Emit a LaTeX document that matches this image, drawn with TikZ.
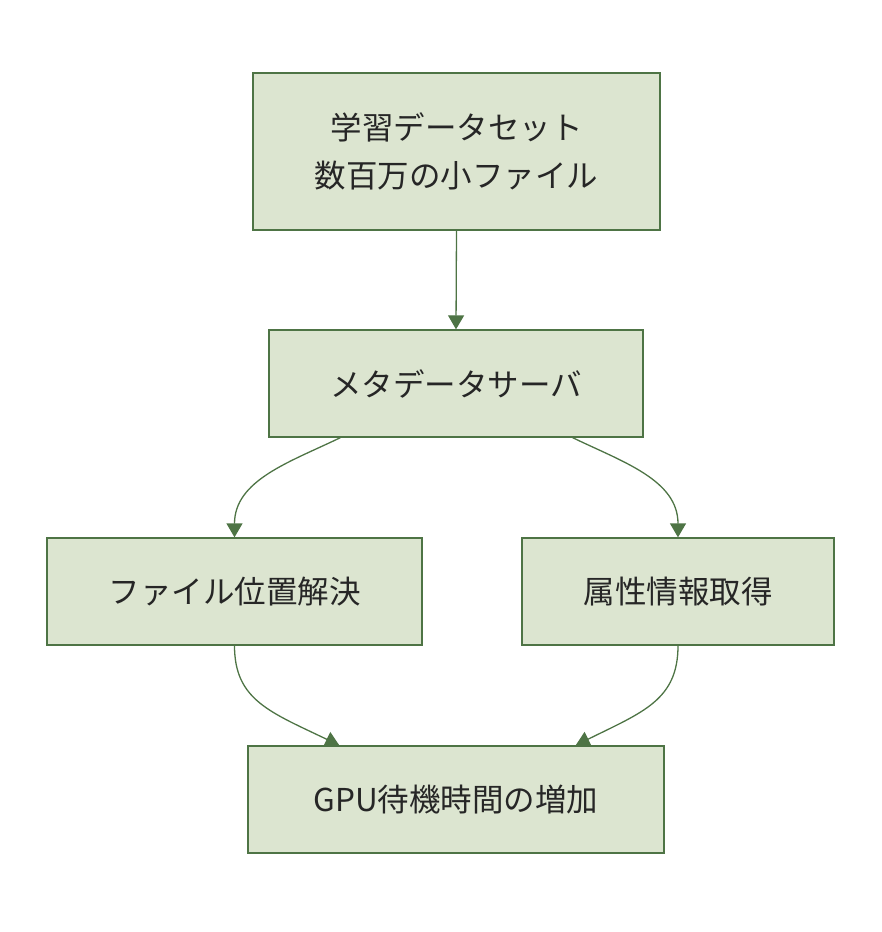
\documentclass[tikz,border=0pt]{standalone}
\usepackage{fontspec}
\setmainfont{Noto Sans CJK JP}
\usetikzlibrary{arrows.meta}
\definecolor{boxfill}{HTML}{DCE5D0}
\definecolor{boxline}{HTML}{4E7445}
\definecolor{txt}{HTML}{262626}
\begin{document}
\begin{tikzpicture}[x=1pt,y=-1pt,
  flowbox/.style={draw=boxline,fill=boxfill,line width=1.3pt,inner sep=0pt,
    text=txt,font=\fontsize{31.5}{48}\selectfont,align=center},
  link/.style={draw=boxline,line width=1.3pt,-{Triangle[width=16pt,length=14pt]}}]
\useasboundingbox (0,0) rectangle (882,932);
\node[flowbox,minimum width=407pt,minimum height=157pt] (A) at (456.5,151.5) {学習データセット\\数百万の小ファイル};
\node[flowbox,minimum width=374pt,minimum height=107pt] (B) at (456,383.5) {メタデータサーバ};
\node[flowbox,minimum width=375pt,minimum height=107pt] (C) at (234.5,591.5) {ファイル位置解決};
\node[flowbox,minimum width=312pt,minimum height=107pt] (D) at (678,591.5) {属性情報取得};
\node[flowbox,minimum width=416pt,minimum height=107pt] (E) at (456,799.5) {GPU待機時間の増加};
\draw[link] (A.south) -- (B.north);
\draw[link] ([xshift=72pt]B.south west) .. controls (290,462) and (234.5,480) .. (C.north);
\draw[link] ([xshift=-71pt]B.south east) .. controls (623,462) and (678,480) .. (D.north);
\draw[link] (C.south) .. controls (234.5,700) and (270,712) .. ([xshift=92pt]E.north west);
\draw[link] (D.south) .. controls (678,700) and (643,712) .. ([xshift=-89pt]E.north east);
\end{tikzpicture}
\end{document}
